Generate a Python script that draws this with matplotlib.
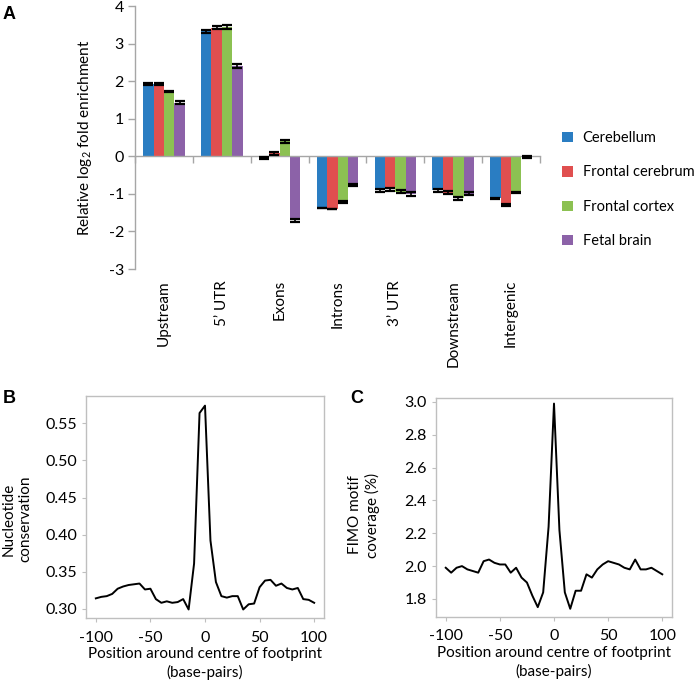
import numpy as np
import matplotlib
matplotlib.use("Agg")
import matplotlib.pyplot as plt
from matplotlib.patches import Patch
from matplotlib.transforms import blended_transform_factory

plt.rcParams["font.family"] = ["Lato", "DejaVu Sans"]
plt.rcParams["mathtext.fontset"] = "custom"
plt.rcParams["mathtext.rm"] = "Lato"
plt.rcParams["mathtext.it"] = "Lato:italic"
plt.rcParams["axes.unicode_minus"] = False

# ---- panel A data ----
regions = ["Upstream", "5\u2019 UTR", "Exons", "Introns", "3\u2019 UTR", "Downstream", "Intergenic"]
tissues = ["Cerebellum", "Frontal cerebrum", "Frontal cortex", "Fetal brain"]
cerebellum = [1.93, 3.33, -0.05, -1.38, -0.91, -0.91, -1.12]
frontal_cerebrum = [1.93, 3.42, 0.08, -1.40, -0.88, -0.97, -1.30]
frontal_cortex = [1.72, 3.45, 0.40, -1.22, -0.94, -1.12, -0.96]
fetal_brain = [1.43, 2.40, -1.70, -0.77, -1.01, -1.00, -0.02]
err_cerebellum = [0.03, 0.04, 0.03, 0.0, 0.04, 0.03, 0.02]
err_frontal_cerebrum = [0.03, 0.04, 0.04, 0.0, 0.04, 0.04, 0.02]
err_frontal_cortex = [0.02, 0.05, 0.04, 0.02, 0.03, 0.04, 0.02]
err_fetal_brain = [0.04, 0.05, 0.04, 0.02, 0.05, 0.04, 0.02]
tissue_colors = ["#2A7DC2", "#E04F4F", "#8CC152", "#8C62A8"]

# ---- panels B and C data (every 5 bp) ----
positions = list(range(-100, 101, 5))
conservation = [0.314, 0.316, 0.317, 0.320, 0.327, 0.330, 0.332, 0.333, 0.334, 0.326,
                0.327, 0.313, 0.308, 0.310, 0.308, 0.309, 0.313, 0.299, 0.361, 0.564,
                0.574, 0.392, 0.336, 0.317, 0.315, 0.317, 0.317, 0.299, 0.306, 0.307,
                0.329, 0.338, 0.339, 0.331, 0.334, 0.328, 0.326, 0.328, 0.313, 0.312,
                0.308]
fimo_coverage = [1.99, 1.96, 1.99, 2.00, 1.98, 1.97, 1.96, 2.03, 2.04, 2.02,
                 2.01, 2.01, 1.96, 1.99, 1.93, 1.90, 1.82, 1.75, 1.84, 2.24,
                 2.99, 2.22, 1.84, 1.74, 1.85, 1.85, 1.95, 1.93, 1.98, 2.01,
                 2.03, 2.02, 2.01, 1.99, 1.98, 2.04, 1.98, 1.98, 1.99, 1.97,
                 1.95]

AXIS_GREY = "#A6A6A6"
FS = 11
TICK_FS = 11.5
W, H = 700, 686
fig = plt.figure(figsize=(W / 100, H / 100), dpi=100)


def px_axes(left, top, right, bottom):
    return fig.add_axes([left / W, 1 - bottom / H, (right - left) / W, (bottom - top) / H])


# ================= Panel A =================
ax = px_axes(135, 6, 540, 269)
x = np.arange(len(regions))
bw = 0.18
series = [cerebellum, frontal_cerebrum, frontal_cortex, fetal_brain]
errs = [err_cerebellum, err_frontal_cerebrum, err_frontal_cortex, err_fetal_brain]
for i, (vals, err, col) in enumerate(zip(series, errs, tissue_colors)):
    xs = x + (i - 1.5) * bw
    ax.bar(xs, vals, width=bw, color=col, edgecolor="none", zorder=2)
    ax.errorbar(xs, vals, yerr=err, fmt="none", ecolor="black",
                elinewidth=1.2, capsize=3.5, capthick=1.6, zorder=3)

ax.set_xlim(-0.5, len(regions) - 0.5)
ax.set_ylim(-3, 4)
ax.set_yticks(range(-3, 5))
ax.set_yticklabels([str(v) for v in range(-3, 5)])
ax.spines["top"].set_visible(False)
ax.spines["right"].set_visible(False)
ax.spines["bottom"].set_position(("data", 0))
for s in ("left", "bottom"):
    ax.spines[s].set_color(AXIS_GREY)
    ax.spines[s].set_linewidth(1.0)
ax.set_xticks(np.arange(-0.5, len(regions), 1.0))
ax.set_xticklabels([])
ax.tick_params(axis="both", direction="out", length=5, color=AXIS_GREY, width=1.0,
               labelsize=TICK_FS)
ax.tick_params(axis="y", pad=3)
trans = blended_transform_factory(ax.transData, ax.transAxes)
for xi, name in zip(x, regions):
    ax.text(xi, -0.042, name, transform=trans, rotation=90, ha="center", va="top",
            fontsize=FS)
ax.text(-0.123, 0.5, "Relative log$_2$ fold enrichment", transform=ax.transAxes,
        rotation=90, ha="center", va="center", fontsize=FS)

handles = [Patch(facecolor=c, edgecolor="none") for c in tissue_colors]
fig.legend(handles, tissues, loc="upper left", bbox_to_anchor=(562 / W, 1 - 131 / H),
           frameon=False, fontsize=10.5, handlelength=0.72, handleheight=0.72,
           handletextpad=0.7, labelspacing=1.4, borderpad=0, borderaxespad=0)

fig.text(3 / W, 1 - 6 / H, "A", fontsize=13, fontweight="bold",
         family="Liberation Sans", ha="left", va="top")


# ================= Panels B and C =================
def line_panel(box, yvals, ylim, yticks, ylabel, label_x, label_y, xlabel_y):
    axl = px_axes(*box)
    axl.plot(positions, yvals, color="black", linewidth=1.4)
    axl.set_xlim(-109, 109)
    axl.set_ylim(*ylim)
    axl.set_xticks([-100, -50, 0, 50, 100])
    axl.set_yticks(yticks)
    for s in axl.spines.values():
        s.set_color("#BFBFBF")
        s.set_linewidth(1.0)
    axl.tick_params(axis="both", direction="out", length=3, color="#BFBFBF",
                    labelsize=TICK_FS)
    axl.tick_params(axis="x", pad=6)
    axl.text(0.5, xlabel_y, "Position around centre of footprint\n(base-pairs)",
             transform=axl.transAxes, ha="center", va="center", fontsize=FS,
             linespacing=1.3)
    axl.text(label_x, label_y, ylabel, transform=axl.transAxes, rotation=90,
             ha="center", va="center", fontsize=FS, linespacing=1.25)
    return axl


axb = line_panel((86, 396, 324, 618), conservation, (0.2875, 0.587),
                 [0.30, 0.35, 0.40, 0.45, 0.50, 0.55], "Nucleotide\nconservation",
                 -0.29, 0.445, -0.205)
axb.set_yticklabels(["0.30", "0.35", "0.40", "0.45", "0.50", "0.55"])

axc = line_panel((436, 398, 672, 617), fimo_coverage, (1.69, 3.024),
                 [1.8, 2.0, 2.2, 2.4, 2.6, 2.8, 3.0], "FIMO motif\ncoverage (%)",
                 -0.305, 0.466, -0.208)
axc.set_yticklabels(["1.8", "2.0", "2.2", "2.4", "2.6", "2.8", "3.0"])

fig.text(3 / W, 1 - 390 / H, "B", fontsize=13, fontweight="bold",
         family="Liberation Sans", ha="left", va="top")
fig.text(350 / W, 1 - 390 / H, "C", fontsize=13, fontweight="bold",
         family="Liberation Sans", ha="left", va="top")

fig.savefig("out.png", dpi=100)
